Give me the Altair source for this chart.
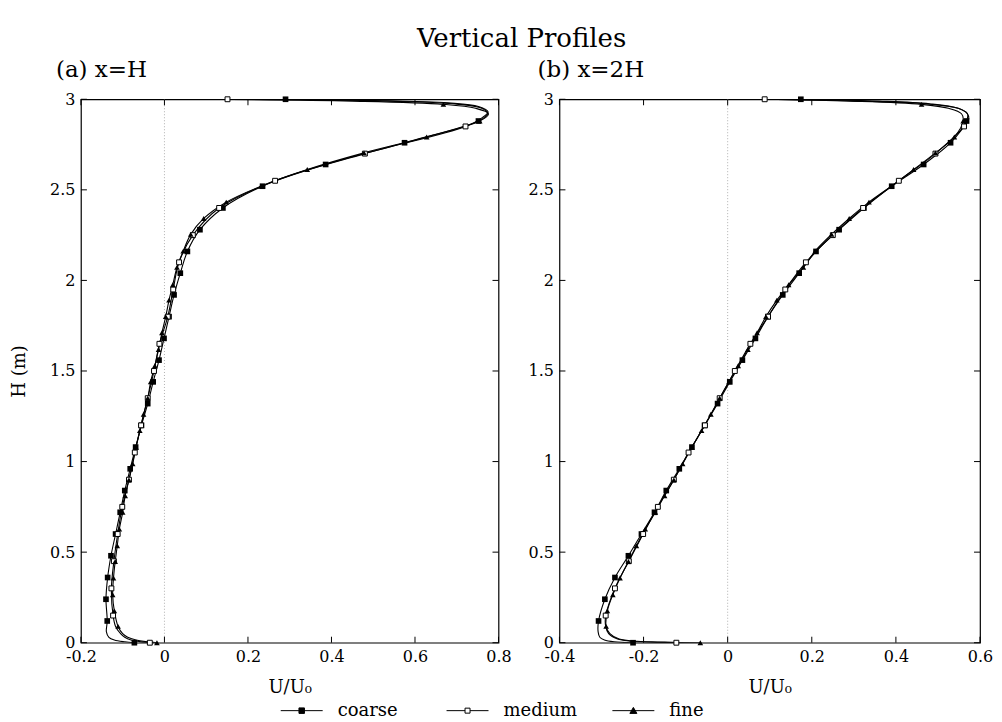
import altair as alt
import pandas as pd

FONT = "DejaVu Serif"
SERIES = ["coarse", "medium", "fine"]

# ---------------- Panel (a) x=H ----------------
A_COARSE_H = [0, 0.005, 0.015, 0.03, 0.06, 0.12, 0.24, 0.36, 0.48, 0.60, 0.72, 0.84, 0.96, 1.08, 1.20, 1.32,
              1.44, 1.56, 1.68, 1.80, 1.92, 2.04, 2.16, 2.28, 2.40, 2.52, 2.64, 2.76, 2.88, 2.92, 2.95, 2.975,
              2.99, 3.0]
A_COARSE_U = [-0.072, -0.095, -0.120, -0.133, -0.139, -0.137, -0.140, -0.136, -0.128, -0.117, -0.106, -0.095,
              -0.082, -0.069, -0.055, -0.040, -0.027, -0.013, -0.001, 0.011, 0.023, 0.038, 0.055, 0.085, 0.140,
              0.235, 0.386, 0.575, 0.752, 0.774, 0.760, 0.690, 0.540, 0.290]
A_COARSE_M = [1, 0, 0, 0, 0] + [1] * 24 + [0, 0, 0, 0, 1]

A_MEDIUM_H = [0, 0.006, 0.015, 0.03, 0.05, 0.09, 0.15, 0.30, 0.45, 0.60, 0.75, 0.90, 1.05, 1.20, 1.35, 1.50,
              1.65, 1.80, 1.95, 2.10, 2.25, 2.40, 2.55, 2.70, 2.85, 2.90, 2.93, 2.96, 2.98, 2.993, 3.0]
A_MEDIUM_U = [-0.035, -0.060, -0.080, -0.095, -0.105, -0.117, -0.123, -0.127, -0.121, -0.112, -0.101, -0.085,
              -0.071, -0.056, -0.040, -0.025, -0.012, 0.008, 0.021, 0.035, 0.068, 0.131, 0.265, 0.480, 0.721,
              0.762, 0.775, 0.752, 0.680, 0.500, 0.151]
A_MEDIUM_M = [1, 0, 0, 0, 0, 0] + [1] * 19 + [0, 0, 0, 0, 0, 1]

A_FINE_H = [0, 0.006, 0.015, 0.03, 0.05, 0.090, 0.176, 0.265, 0.357, 0.448, 0.535, 0.627, 0.720, 0.811, 0.899,
            0.987, 1.079, 1.171, 1.261, 1.350, 1.441, 1.529, 1.619, 1.711, 1.800, 1.891, 1.976, 2.072, 2.162,
            2.254, 2.342, 2.432, 2.520, 2.612, 2.704, 2.792, 2.880, 2.92, 2.95, 2.972, 2.99, 3.0]
A_FINE_U = [-0.018, -0.045, -0.068, -0.088, -0.100, -0.111, -0.120, -0.124, -0.122, -0.118, -0.113, -0.108,
            -0.100, -0.094, -0.085, -0.076, -0.068, -0.059, -0.050, -0.040, -0.033, -0.023, -0.014, -0.006,
            0.003, 0.011, 0.020, 0.030, 0.045, 0.063, 0.094, 0.148, 0.231, 0.342, 0.478, 0.628, 0.755, 0.776,
            0.745, 0.668, 0.450, 0.100]
A_FINE_M = [1, 0, 0, 0, 0] + [1] * 32 + [0, 0, 1, 0, 0]

# ---------------- Panel (b) x=2H ----------------
B_COARSE_H = [0, 0.005, 0.015, 0.03, 0.06, 0.12, 0.24, 0.36, 0.48, 0.60, 0.72, 0.84, 0.96, 1.08, 1.20, 1.32,
              1.44, 1.56, 1.68, 1.80, 1.92, 2.04, 2.16, 2.28, 2.40, 2.52, 2.64, 2.76, 2.88, 2.92, 2.95, 2.975,
              2.99, 3.0]
B_COARSE_U = [-0.225, -0.270, -0.293, -0.304, -0.308, -0.307, -0.292, -0.268, -0.236, -0.205, -0.174, -0.146,
              -0.115, -0.085, -0.055, -0.024, 0.005, 0.035, 0.066, 0.096, 0.131, 0.170, 0.210, 0.265, 0.324,
              0.390, 0.466, 0.530, 0.568, 0.570, 0.548, 0.480, 0.360, 0.174]
B_COARSE_M = [1, 0, 0, 0, 0] + [1] * 24 + [0, 0, 0, 0, 1]

B_MEDIUM_H = [0, 0.003, 0.008, 0.02, 0.05, 0.09, 0.15, 0.30, 0.45, 0.60, 0.75, 0.90, 1.05, 1.20, 1.35, 1.50,
              1.65, 1.80, 1.95, 2.10, 2.25, 2.40, 2.55, 2.70, 2.85, 2.89, 2.92, 2.95, 2.975, 2.99, 3.0]
B_MEDIUM_U = [-0.122, -0.180, -0.230, -0.262, -0.283, -0.290, -0.290, -0.268, -0.235, -0.201, -0.166, -0.128,
              -0.093, -0.054, -0.019, 0.017, 0.054, 0.096, 0.137, 0.186, 0.250, 0.322, 0.407, 0.494, 0.562,
              0.573, 0.570, 0.548, 0.470, 0.300, 0.088]
B_MEDIUM_M = [1, 0, 0, 0, 0, 0] + [1] * 19 + [0, 0, 0, 0, 0, 1]

B_FINE_H = [0, 0.003, 0.008, 0.02, 0.05, 0.090, 0.176, 0.265, 0.357, 0.448, 0.535, 0.627, 0.720, 0.811, 0.899,
            0.987, 1.079, 1.171, 1.261, 1.350, 1.441, 1.529, 1.619, 1.711, 1.800, 1.891, 1.976, 2.072, 2.162,
            2.254, 2.342, 2.432, 2.520, 2.612, 2.704, 2.792, 2.880, 2.92, 2.95, 2.972, 2.99, 3.0]
B_FINE_U = [-0.065, -0.150, -0.215, -0.258, -0.280, -0.289, -0.286, -0.273, -0.256, -0.236, -0.217, -0.196,
            -0.172, -0.150, -0.128, -0.107, -0.085, -0.062, -0.040, -0.019, 0.003, 0.025, 0.048, 0.070, 0.091,
            0.117, 0.145, 0.180, 0.208, 0.247, 0.289, 0.336, 0.389, 0.442, 0.494, 0.539, 0.560, 0.556, 0.525,
            0.461, 0.300, 0.080]
B_FINE_M = [1, 0, 0, 0, 0] + [1] * 32 + [0, 0, 1, 0, 0]

A_XTICKS = [-0.2, 0, 0.2, 0.4, 0.6, 0.8]
B_XTICKS = [-0.4, -0.2, 0, 0.2, 0.4, 0.6]
YTICKS = [0, 0.5, 1, 1.5, 2, 2.5, 3]

LEGEND_PATHS = [
    "M-4.2,0H-0.55M0.55,0H4.2M-0.55,-0.55H0.55V0.55H-0.55Z",
    "M-4.2,0H-0.5M0.5,0H4.2M-0.5,-0.5H0.5V0.5H-0.5Z",
    "M-4.2,0H4.2M0,-0.65L0.7,0.55H-0.7Z",
]
LEGEND_FILLS = ["black", "white", "black"]
LEGEND_STROKES = ["black", "black", "black"]

W_A, W_B, H_PLOT = 418, 421, 544


def frame(name, H, U, M):
    return pd.DataFrame({"series": name, "i": list(range(len(H))), "h": H, "u": U, "m": M})


def legend():
    return alt.Legend(title=None, orient="none", direction="horizontal", legendX=212, legendY=603,
                      gridAlign="all")


def panel(data_list, xticks, width, subtitle, ytitle, dx):
    df = pd.concat([frame(*d) for d in data_list], ignore_index=True)
    base = alt.Chart(df)
    xs = alt.Scale(domain=[xticks[0], xticks[-1]], nice=False, zero=False)
    ys = alt.Scale(domain=[0, 3], nice=False, zero=False)
    xaxis = alt.Axis(values=xticks, labelExpr="'' + datum.value", title="U/U₀", grid=False, ticks=False,
                     tickSize=0, domain=False, labelFlush=False, labelFont=FONT, labelFontSize=16,
                     titleFont=FONT, titleFontSize=18, titleFontWeight="normal", labelPadding=6,
                     titlePadding=14, labelColor="black", titleColor="black")
    yaxis_kw = dict(values=YTICKS, labelExpr="'' + datum.value", grid=False, ticks=False, tickSize=0,
                    domain=False, labelFont=FONT, labelFontSize=16, labelPadding=6, labelColor="black")
    if ytitle:
        yaxis = alt.Axis(title=ytitle, titleFont=FONT, titleFontSize=18, titleFontWeight="normal",
                         titlePadding=21, titleColor="black", **yaxis_kw)
    else:
        yaxis = alt.Axis(title=None, **yaxis_kw)

    X = alt.X("u:Q", scale=xs, axis=xaxis)
    Y = alt.Y("h:Q", scale=ys, axis=yaxis)

    zero = alt.Chart(pd.DataFrame({"z": [0]})).mark_rule(color="#b0b0b0", strokeDash=[1, 2], strokeWidth=1).encode(
        x=alt.X("z:Q", scale=xs, axis=xaxis))

    lines = base.mark_line(color="black", strokeWidth=1.1, interpolate="catmull-rom", clip=True).encode(
        x=X, y=Y, detail="series:N", order="i:Q")

    pts = base.transform_filter("datum.m == 1")
    sq = pts.transform_filter("datum.series == 'coarse'").mark_point(
        shape="square", filled=True, color="black", size=32, opacity=1).encode(x=X, y=Y)
    osq = pts.transform_filter("datum.series == 'medium'").mark_point(
        shape="square", filled=True, fill="white", stroke="black", strokeWidth=1, size=24, opacity=1).encode(x=X, y=Y)
    tri = pts.transform_filter("datum.series == 'fine'").mark_point(
        shape="triangle-up", filled=True, color="black", size=32, opacity=1).encode(x=X, y=Y)

    xt = alt.Chart(pd.DataFrame({"t": xticks}))
    yt = alt.Chart(pd.DataFrame({"t": YTICKS}))
    tick_style = dict(color="black", strokeWidth=1)
    bt = xt.mark_rule(**tick_style).encode(x=alt.X("t:Q", scale=xs, axis=xaxis), y=alt.value(H_PLOT),
                                           y2=alt.value(H_PLOT - 6))
    tt = xt.mark_rule(**tick_style).encode(x=alt.X("t:Q", scale=xs, axis=xaxis), y=alt.value(0), y2=alt.value(6))
    lt = yt.mark_rule(**tick_style).encode(y=alt.Y("t:Q", scale=ys, axis=yaxis), x=alt.value(0), x2=alt.value(6))
    rt = yt.mark_rule(**tick_style).encode(y=alt.Y("t:Q", scale=ys, axis=yaxis), x=alt.value(width - 6),
                                           x2=alt.value(width))

    leg = alt.Chart(pd.DataFrame({"series": SERIES})).transform_filter("false").mark_point(
        strokeWidth=1).encode(
        x=alt.X("u:Q", scale=xs, axis=xaxis),
        shape=alt.Shape("series:N", scale=alt.Scale(domain=SERIES, range=LEGEND_PATHS), legend=legend()),
        fill=alt.Fill("series:N", scale=alt.Scale(domain=SERIES, range=LEGEND_FILLS), legend=legend()),
        stroke=alt.Stroke("series:N", scale=alt.Scale(domain=SERIES, range=LEGEND_STROKES), legend=legend()),
    )

    return alt.layer(zero, lines, sq, osq, tri, bt, tt, lt, rt, leg).properties(
        width=width, height=H_PLOT,
        title=alt.Title(subtitle, anchor="start", frame="group", font=FONT, fontSize=23, fontWeight="normal",
                        dx=dx, offset=9, color="black"))


pa = panel([("coarse", A_COARSE_H, A_COARSE_U, A_COARSE_M),
            ("medium", A_MEDIUM_H, A_MEDIUM_U, A_MEDIUM_M),
            ("fine", A_FINE_H, A_FINE_U, A_FINE_M)], A_XTICKS, W_A, "(a) x=H", "H (m)", -25)
pb = panel([("coarse", B_COARSE_H, B_COARSE_U, B_COARSE_M),
            ("medium", B_MEDIUM_H, B_MEDIUM_U, B_MEDIUM_M),
            ("fine", B_FINE_H, B_FINE_U, B_FINE_M)], B_XTICKS, W_B, "(b) x=2H", None, -22)

chart = alt.hconcat(pa, pb, spacing=61, bounds="flush").resolve_scale(
    x="independent", shape="shared", fill="shared", stroke="shared").resolve_legend(
    shape="shared", fill="shared", stroke="shared").properties(
    title=alt.Title("Vertical Profiles", anchor="middle", frame="bounds", font=FONT, fontSize=26,
                    fontWeight="normal", offset=7, dx=20, color="black"),
    padding={"left": 1, "top": 17, "right": 0, "bottom": 0},
).configure_view(stroke="black", strokeWidth=1.2).configure_legend(
    symbolSize=100, symbolStrokeColor="black", symbolStrokeWidth=1, labelFont=FONT, labelFontSize=18,
    labelOffset=27, columnPadding=33, labelColor="black", symbolOpacity=1,
)

chart.save("out.html", embed_options={"renderer": "svg", "actions": False})
